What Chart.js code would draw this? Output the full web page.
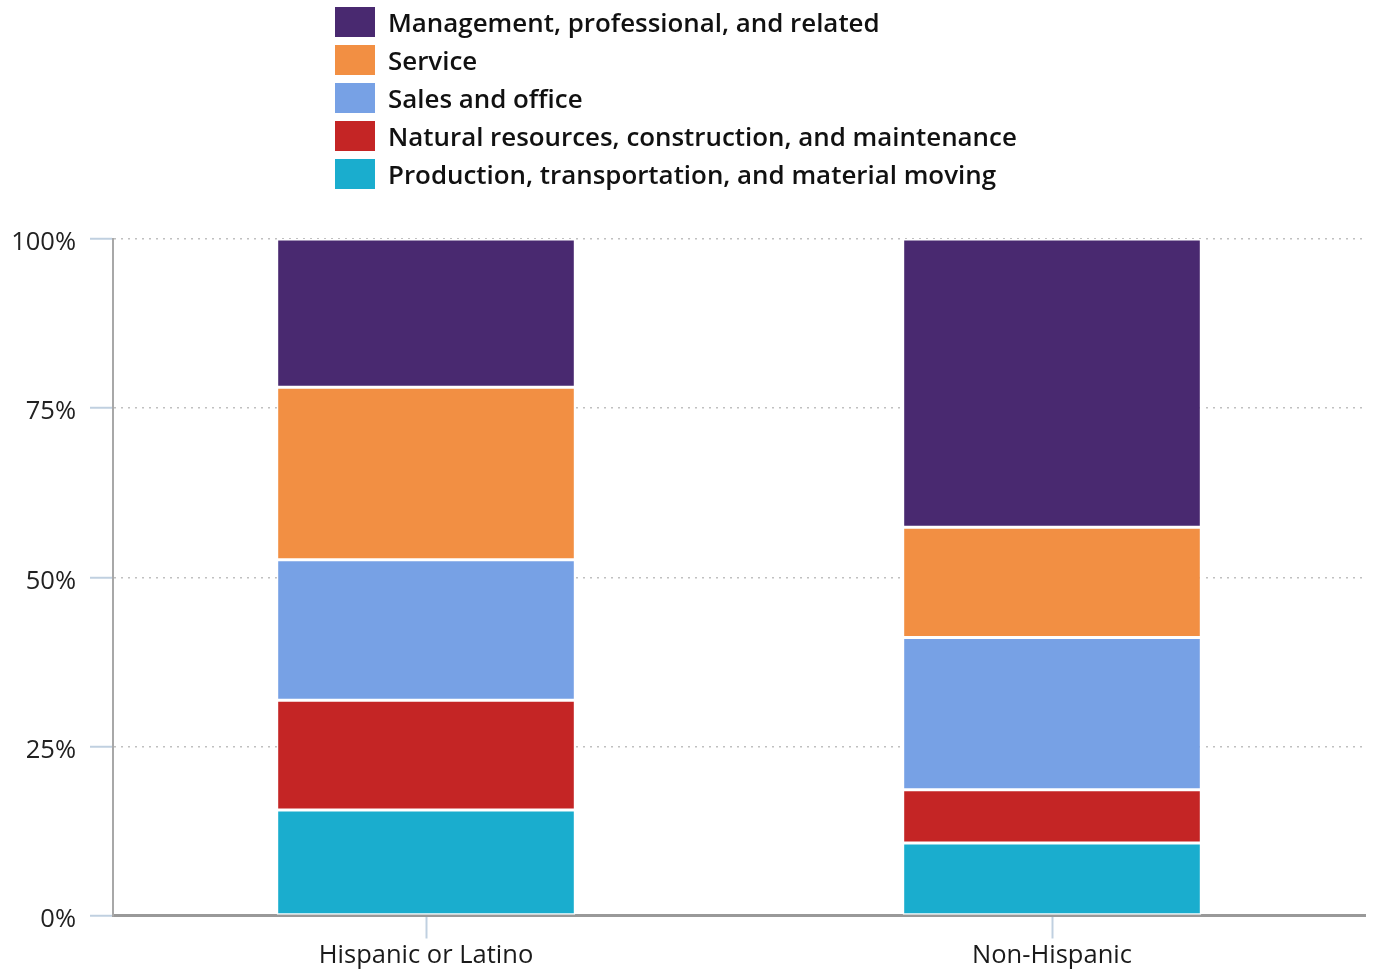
<!DOCTYPE html>
<html><head><meta charset="utf-8">
<script src="https://cdn.jsdelivr.net/npm/chart.js@4"></script>
<style>
html,body{margin:0;padding:0;background:#fff;}
#wrap{position:relative;width:1375px;height:974px;}
#c{position:absolute;left:0;top:0;}
#legend{position:absolute;left:335px;top:7px;font-family:'Open Sans';font-weight:600;font-size:25.9px;color:#111;}
.item{display:flex;align-items:center;height:30px;margin-bottom:8px;white-space:nowrap;}
.box{width:40px;height:30px;margin-right:13px;flex:none;}
</style></head><body>
<div id="wrap"><canvas id="c" width="1375" height="974" style="width:1375px;height:974px"></canvas><div id="legend"></div></div>
<script>
const categories = ['Hispanic or Latino', 'Non-Hispanic'];
const management = [21.9, 42.6];
const service = [25.5, 16.3];
const salesOffice = [20.8, 22.5];
const naturalResources = [16.2, 7.9];
const production = [15.6, 10.7];
const yTicks = [0, 25, 50, 75, 100];

const seriesNames = ['Production, transportation, and material moving','Natural resources, construction, and maintenance','Sales and office','Service','Management, professional, and related'];
const seriesData = [production, naturalResources, salesOffice, service, management];
const seriesColors = ['#1aadce', '#c42525', '#77a1e5', '#f28f43', '#492970'];

const datasets = seriesNames.map((n, i) => ({
  label: n, data: seriesData[i], backgroundColor: seriesColors[i],
  borderColor: '#ffffff', borderWidth: 1.5, borderSkipped: false,
  categoryPercentage: 1, barPercentage: 0.477
}));

const font = {family: "'Open Sans'", size: 25.5};
const chart = new Chart(document.getElementById('c'), {
  type: 'bar',
  data: {labels: categories, datasets},
  options: {
    responsive: false, animation: false,
    layout: {padding: {top: 239, left: 0, right: 10, bottom: 0}},
    plugins: {legend: {display: false}, tooltip: {enabled: false}},
    scales: {
      x: {
        stacked: true,
        grid: {offset: false, drawOnChartArea: false, tickLength: 23, tickColor: '#c0d0e0', tickWidth: 2},
        border: {color: '#999999', width: 3},
        ticks: {padding: 2, color: '#1a1a1a', font},
        afterFit: s => { s.height = 58.5; }
      },
      y: {
        stacked: true, min: 0, max: 100,
        afterBuildTicks: s => { s.ticks = yTicks.map(v => ({value: v})); },
        ticks: {callback: v => v + '%', padding: 14, color: '#222', font, labelOffset: 4},
        grid: {color: '#c0c0c0', lineWidth: 1.5, tickColor: '#c0d0e0', tickLength: 23, tickWidth: 2, tickBorderDash: []},
        border: {color: '#a8a8a8', width: 2, dash: [2, 5]},
        afterFit: s => { s.width = 113; }
      }
    }
  }
});

const legend = document.getElementById('legend');
chart.data.datasets.slice().reverse().forEach(ds => {
  const it = document.createElement('div'); it.className = 'item';
  const b = document.createElement('div'); b.className = 'box'; b.style.background = ds.backgroundColor;
  const t = document.createElement('span'); t.textContent = ds.label;
  it.appendChild(b); it.appendChild(t); legend.appendChild(it);
});
</script>
</body></html>
